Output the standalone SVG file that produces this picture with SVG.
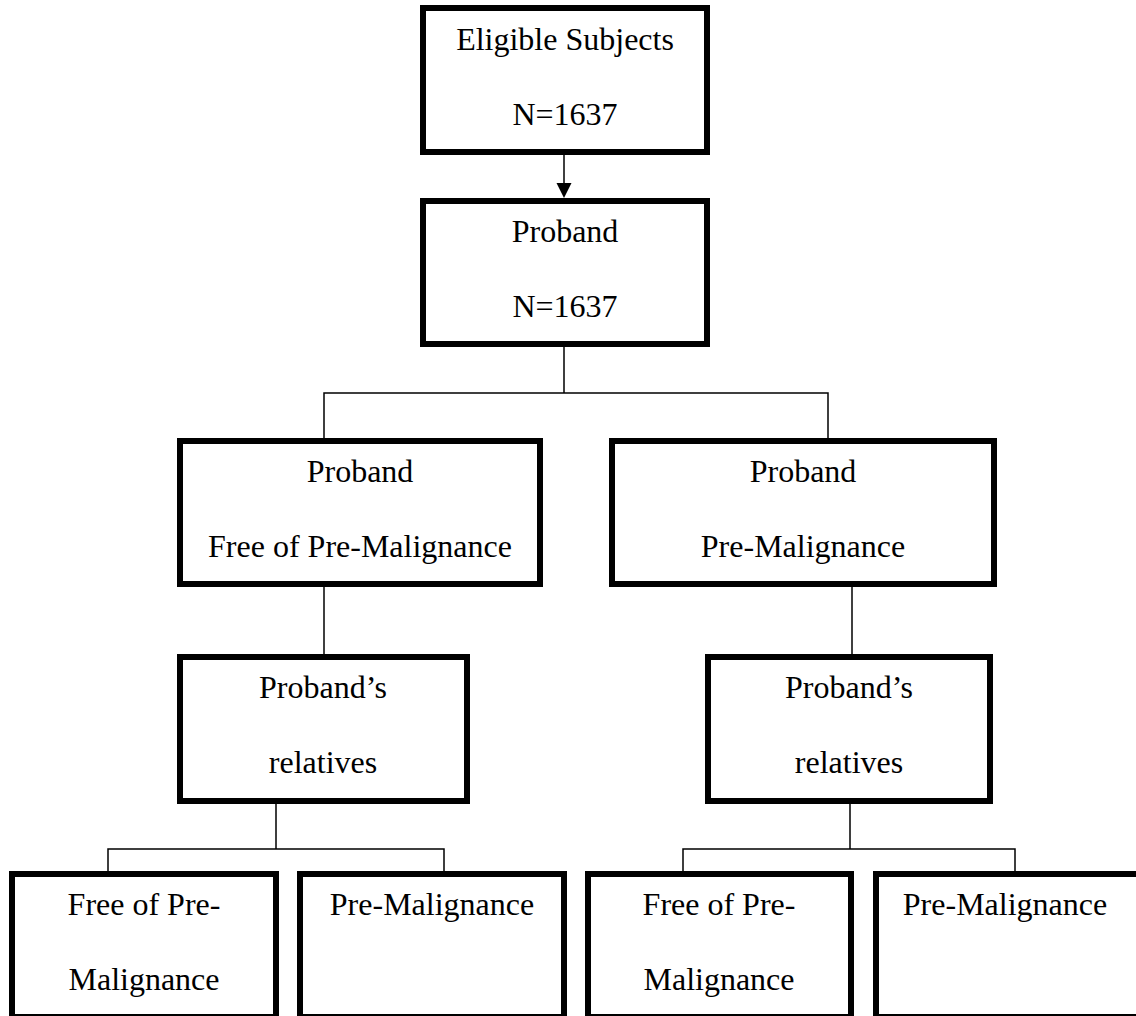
<svg xmlns="http://www.w3.org/2000/svg" width="1136" height="1016" viewBox="0 0 1136 1016">
<style>
.box{fill:#fff;stroke:#000;stroke-width:6}
.t{font-family:"Liberation Serif","Times New Roman","DejaVu Serif",serif;font-size:32px;fill:#000;text-anchor:middle}
.c{fill:none;stroke:#000;stroke-width:1.5}
</style>
<rect width="1136" height="1016" fill="#fff"/>
<g id="connectors">
<line class="c" x1="564" y1="155" x2="564" y2="184"/>
<path d="M556.5,183 L571.5,183 L564,198 z" fill="#000"/>
<path class="c" d="M564,347 V393 M324,438 V393 H828 V438"/>
<path class="c" d="M324,587 V654"/>
<path class="c" d="M852,587 V654"/>
<path class="c" d="M276,804 V849 M108,871 V849 H444 V871"/>
<path class="c" d="M850,804 V849 M683,871 V849 H1015 V871"/>
</g>
<g id="n1"><rect class="box" x="423" y="8" width="284" height="144"/>
<text class="t" x="565" y="50">Eligible Subjects</text><text class="t" x="565" y="125">N=1637</text></g>
<g id="n2"><rect class="box" x="423" y="201" width="284" height="143"/>
<text class="t" x="565" y="242">Proband</text><text class="t" x="565" y="317">N=1637</text></g>
<g id="n3"><rect class="box" x="180" y="441" width="360" height="143"/>
<text class="t" x="360" y="482">Proband</text><text class="t" x="360" y="557">Free of Pre-Malignance</text></g>
<g id="n4"><rect class="box" x="612" y="441" width="382" height="143"/>
<text class="t" x="803" y="482">Proband</text><text class="t" x="803" y="557">Pre-Malignance</text></g>
<g id="n5"><rect class="box" x="180" y="657" width="287" height="144"/>
<text class="t" x="323" y="698">Proband’s</text><text class="t" x="323" y="773">relatives</text></g>
<g id="n6"><rect class="box" x="708" y="657" width="282" height="144"/>
<text class="t" x="849" y="698">Proband’s</text><text class="t" x="849" y="773">relatives</text></g>
<g id="n7"><rect class="box" x="12" y="874" width="264" height="143"/>
<text class="t" x="144" y="915">Free of Pre-</text><text class="t" x="144" y="990">Malignance</text></g>
<g id="n8"><rect class="box" x="300" y="874" width="264" height="143"/>
<text class="t" x="432" y="915">Pre-Malignance</text></g>
<g id="n9"><rect class="box" x="588" y="874" width="263" height="143"/>
<text class="t" x="719" y="915">Free of Pre-</text><text class="t" x="719" y="990">Malignance</text></g>
<g id="n10"><rect class="box" x="876" y="874" width="264" height="143"/>
<text class="t" x="1005" y="915">Pre-Malignance</text></g>
</svg>
